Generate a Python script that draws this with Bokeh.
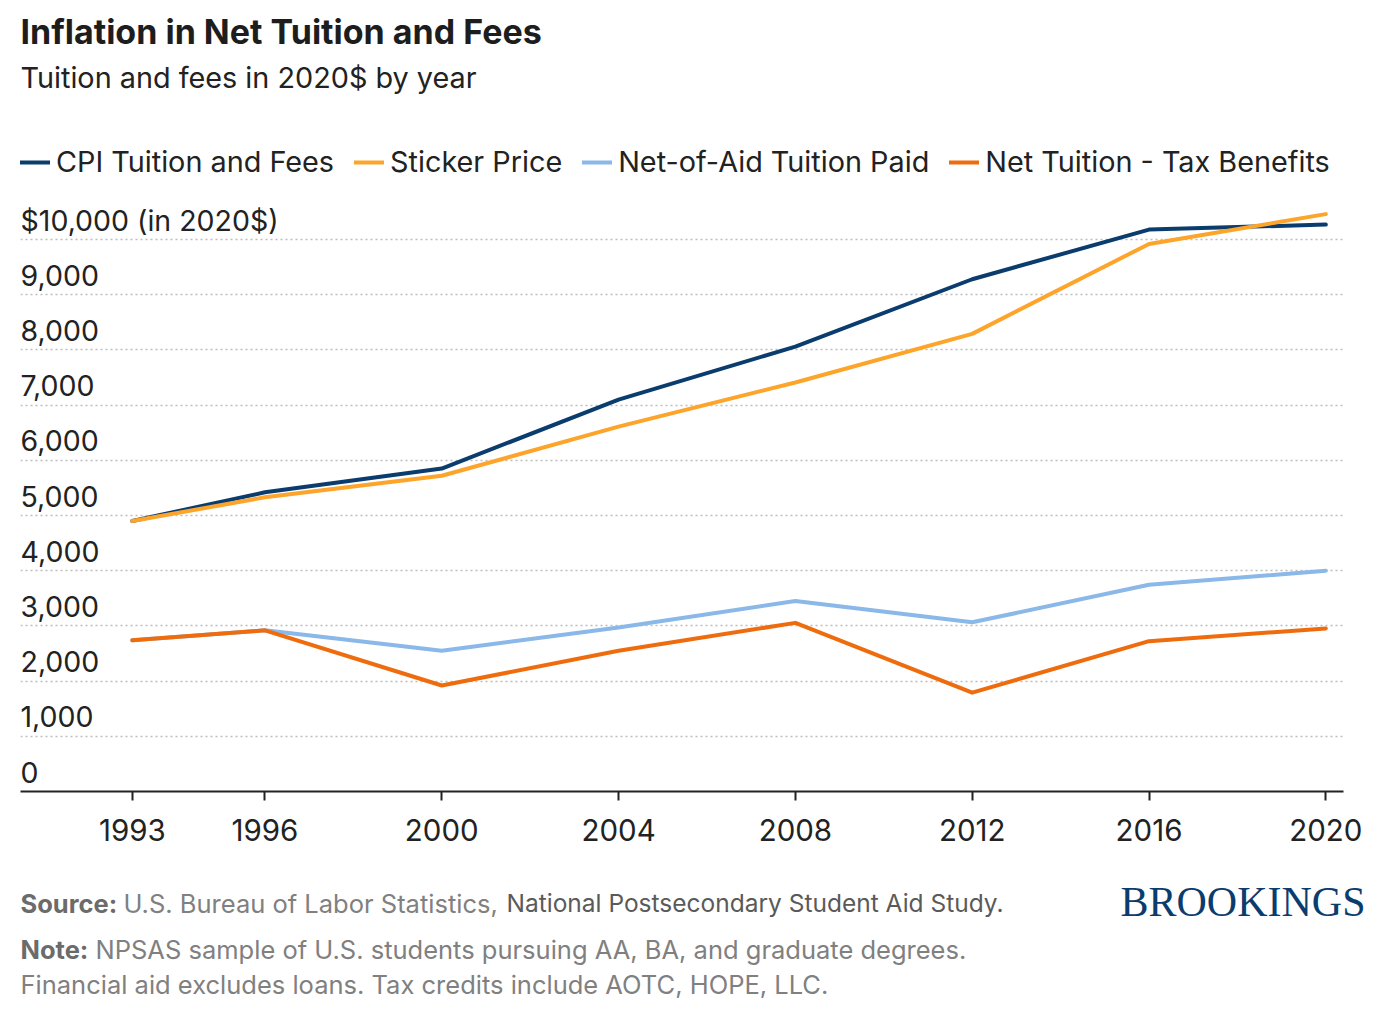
from bokeh.plotting import figure
from bokeh.models import (ColumnDataSource, Label, LabelSet, Legend, LegendItem, Grid,
                          FixedTicker, Range1d)
from bokeh.core.properties import value
from bokeh.layouts import column
from bokeh.embed import file_html
from bokeh.resources import INLINE

# ---- data ----
years = [1993, 1996, 2000, 2004, 2008, 2012, 2016, 2020]
cpi_tuition = [4900, 5420, 5850, 7100, 8060, 9280, 10180, 10270]
sticker_price = [4900, 5330, 5720, 6610, 7410, 8290, 9920, 10460]
net_of_aid = [2740, 2920, 2550, 2970, 3450, 3065, 3745, 4000]
net_minus_tax = [2740, 2920, 1920, 2550, 3055, 1790, 2723, 2953]

series_names = ["CPI Tuition and Fees", "Sticker Price", "Net-of-Aid Tuition Paid",
                "Net Tuition - Tax Benefits"]
series_values = [cpi_tuition, sticker_price, net_of_aid, net_minus_tax]
series_colors = ["#0b3c6e", "#fda42b", "#8ab8e9", "#ef6c0e"]

y_ticks = [0, 1000, 2000, 3000, 4000, 5000, 6000, 7000, 8000, 9000, 10000]
y_tick_labels = ["0", "1,000", "2,000", "3,000", "4,000", "5,000", "6,000",
                 "7,000", "8,000", "9,000", "$10,000 (in 2020$)"]

FONT = "Inter"
W = 1367
MAIN_H = 850
FOOT_H = 156

x_start, x_axis_end, x_end = 1990.47, 2020.40, 2020.943
# frame spans the header area too, so header texts sit inside it
p = figure(width=W, height=MAIN_H, output_backend="svg", toolbar_location=None,
           x_range=Range1d(x_start, x_end), y_range=Range1d(0, 14330),
           y_axis_location=None, min_border_left=20, min_border_right=0,
           min_border_top=0, min_border_bottom=MAIN_H - 791,
           outline_line_color=None,
           background_fill_color="white", border_fill_color="white")

p.xgrid.visible = False
p.ygrid.visible = False
p.add_layout(Grid(dimension=1, ticker=FixedTicker(ticks=y_ticks[1:]),
                  cross_bounds=(x_start, x_axis_end),
                  grid_line_color="#bdbdbd", grid_line_width=1.6,
                  grid_line_dash="2 3"))

# x axis
xa = p.xaxis[0]
xa.ticker = FixedTicker(ticks=years)
xa.bounds = (x_start, x_axis_end)
xa.axis_line_color = "#222222"
xa.axis_line_width = 2
xa.major_tick_line_color = "#222222"
xa.major_tick_line_width = 2
xa.major_tick_out = 9
xa.major_tick_in = 0
xa.minor_tick_line_color = None
xa.major_label_text_font = FONT
xa.major_label_text_font_size = "29.5px"
xa.major_label_text_color = "#222222"
xa.major_label_standoff = 18

# y labels sitting above the gridlines
ysrc = ColumnDataSource(dict(x=[x_start] * len(y_ticks), y=y_ticks, t=y_tick_labels))
p.add_layout(LabelSet(x="x", y="y", text="t", source=ysrc, y_offset=9,
                      text_font=value(FONT), text_font_size=value("28.5px"),
                      text_color=value("#222222"), text_align="left",
                      text_baseline="alphabetic"))

# lines
items = []
for name, vals, col in zip(series_names, series_values, series_colors):
    r = p.line(years, vals, line_color=col, line_width=4, line_join="round",
               line_cap="round")
    items.append(LegendItem(label=name, renderers=[r]))

leg = Legend(items=items, orientation="horizontal", location=(0, 612),
             glyph_width=30, glyph_height=30, label_height=30,
             label_standoff=6, spacing=20, padding=0, margin=0,
             border_line_color=None, background_fill_alpha=0,
             label_text_font=FONT, label_text_font_size="28.8px",
             label_text_color="#222222")
p.add_layout(leg, "center")

# header
p.add_layout(Label(x=0, y=760, x_units="screen", y_units="screen",
                   text="Inflation in Net Tuition and Fees", text_font=FONT,
                   text_font_size="34px", text_font_style="bold",
                   text_color="#1d1d1d", text_baseline="alphabetic"))
p.add_layout(Label(x=0, y=714, x_units="screen", y_units="screen",
                   text="Tuition and fees in 2020$ by year", text_font=FONT,
                   text_font_size="28.8px", text_color="#222222",
                   text_baseline="alphabetic"))

# footer figure (its frame is aligned with the main frame: left edge at 20)
f = figure(width=W, height=FOOT_H, output_backend="svg", toolbar_location=None,
           x_axis_location=None, y_axis_location=None, min_border=0,
           outline_line_color=None, x_range=Range1d(0, 1), y_range=Range1d(0, 1),
           background_fill_color="white", border_fill_color="white")
f.grid.visible = False


def foot(x, base, text, bold=False, color="#808080", size="25.5px",
         font=FONT, align="left"):
    f.add_layout(Label(x=x - 20, y=MAIN_H + FOOT_H - base, x_units="screen",
                       y_units="screen", text=text, text_font=font,
                       text_font_size=size,
                       text_font_style="bold" if bold else "normal",
                       text_color=color, text_align=align,
                       text_baseline="alphabetic"))


foot(20, 903, "Source:", bold=True, color="#6b6b6b")
foot(123, 903, "U.S. Bureau of Labor Statistics,")
foot(506, 902, "National Postsecondary Student Aid Study.", color="#5a5a5a",
     size="24.5px")
foot(20, 949, "Note:", bold=True, color="#6b6b6b")
foot(95, 949, "NPSAS sample of U.S. students pursuing AA, BA, and graduate degrees.")
foot(20, 984, "Financial aid excludes loans. Tax credits include AOTC, HOPE, LLC.")
foot(1365, 901, "BROOKINGS", color="#0b3c6e", size="42px",
     font="Liberation Serif", align="right")

layout = column(p, f, spacing=0)
open("out.html", "w").write(file_html(layout, INLINE))
